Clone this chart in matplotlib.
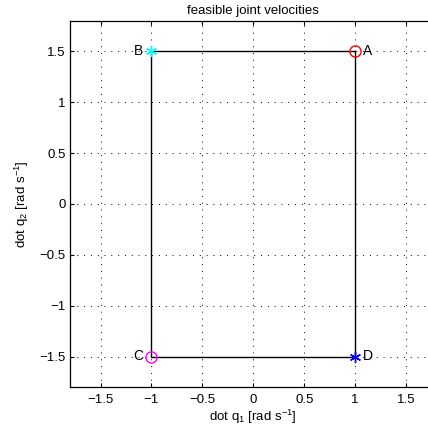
import matplotlib
matplotlib.use("Agg")
import matplotlib.pyplot as plt

plt.rcParams['font.family'] = ['Liberation Sans', 'DejaVu Sans']
plt.rcParams['mathtext.fontset'] = 'custom'
plt.rcParams['mathtext.rm'] = 'Liberation Sans'
plt.rcParams['mathtext.it'] = 'Liberation Sans'

corner_names = ["A", "B", "C", "D"]
corner_q1 = [1.0, -1.0, -1.0, 1.0]
corner_q2 = [1.5, 1.5, -1.5, -1.5]
corner_colors = ["red", "cyan", "magenta", "blue"]
corner_markers = ["o", "*", "o", "*"]
ticks = [-1.5, -1, -0.5, 0, 0.5, 1, 1.5]
tick_labels = ["\u22121.5", "\u22121", "\u22120.5", "0", "0.5", "1", "1.5"]

W, H = 428, 425
fig = plt.figure(figsize=(W / 100, H / 100), dpi=100)
ax = fig.add_axes([70 / W, (H - 387) / H, 366.6 / W, 366 / H])

# rectangle
xs = corner_q1 + [corner_q1[0]]
ys = corner_q2 + [corner_q2[0]]
ax.plot(xs, ys, color="black", lw=1.0, zorder=3)

for name, x, y, c, m in zip(corner_names, corner_q1, corner_q2, corner_colors, corner_markers):
    if m == "o":
        ax.plot([x], [y], marker="o", ms=8, mfc="none", mec=c, mew=1.0, ls="none", zorder=4)
    else:
        ax.plot([x], [y], marker=(6, 2, 0), ms=8, mec=c, mew=1.0, ls="none", zorder=4)
    if x > 0:
        ax.text(x + 0.08, y, name, ha="left", va="center", fontsize=10)
    else:
        ax.text(x - 0.08, y, name, ha="right", va="center", fontsize=10)

ax.set_xlim(-1.8, 1.8)
ax.set_ylim(-1.8, 1.8)
ax.set_xticks(ticks)
ax.set_yticks(ticks)
ax.set_xticklabels(tick_labels)
ax.set_yticklabels(tick_labels)
ax.tick_params(direction="in", length=3, width=0.8, labelsize=9.5, top=True, right=False)
ax.tick_params(axis="x", pad=5)
ax.tick_params(axis="y", pad=3)
ax.grid(True, color="black", linestyle=(0, (1, 6)), linewidth=0.7)
ax.spines['right'].set_visible(False)
for s in ax.spines.values():
    s.set_linewidth(0.9)

ax.set_xlabel("dot q$_1$ [rad s$^{-1}$]", fontsize=9.5, labelpad=1)
ax.set_ylabel("dot q$_2$ [rad s$^{-1}$]", fontsize=9.5, labelpad=6)
ax.set_title("feasible joint velocities", fontsize=9.5, pad=5)

fig.savefig("out.png", dpi=100)
